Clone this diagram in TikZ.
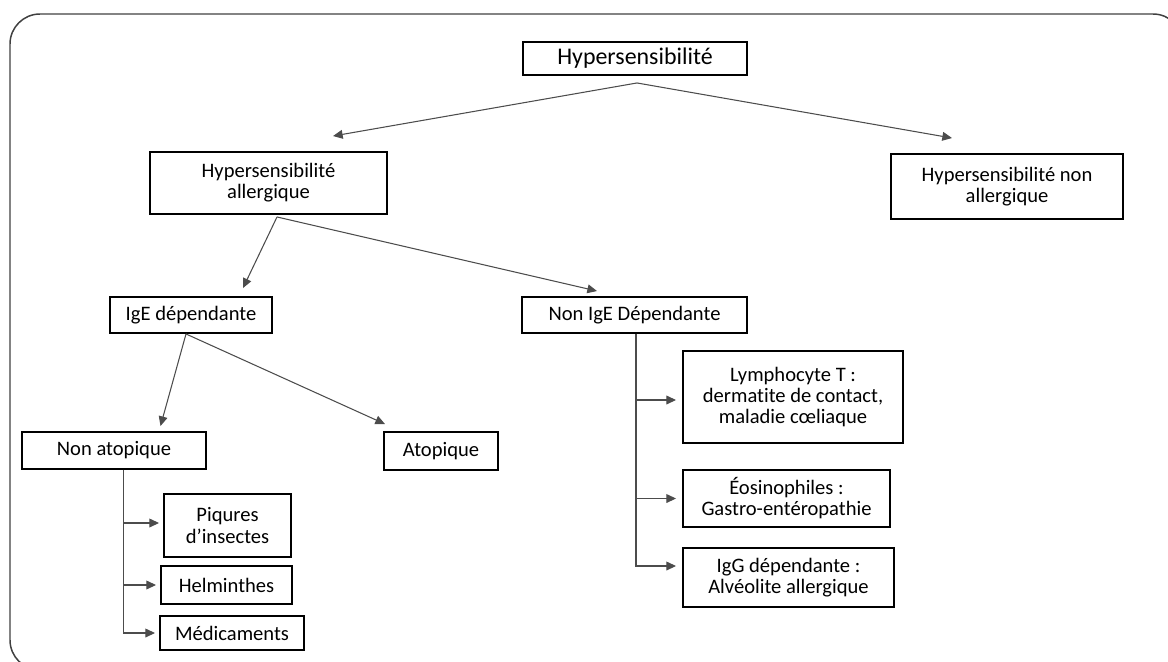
\documentclass[tikz,border=0pt]{standalone}
\usepackage{fontspec}
\setmainfont{Carlito}[Ligatures=NoCommon]
\usetikzlibrary{arrows.meta,calc}

\begin{document}
\begin{tikzpicture}[
		box/.style={draw=black, line width=1.1pt, inner sep=0pt, align=center,
			font=\fontsize{11.7}{12}\selectfont},
		link/.style={draw=black!70, line width=0.6pt},
		arr/.style={link, -{Triangle[length=5.5pt,width=5pt]}}
	]
	\useasboundingbox (0,0) rectangle (23.36,-13.22);
	\clip (0,0) rectangle (23.36,-13.22);
	% cadre
	\draw[black!75, line width=0.85pt, rounded corners=0.6cm] (0.2,-0.28) rectangle (23.66,-13.4);
	
	\node[box, minimum width=4.48cm, minimum height=0.66cm, font=\fontsize{13.6}{14}\selectfont] (hyp) at (12.70,-1.17) {Hypersensibilité};
	\node[box, minimum width=4.74cm, minimum height=1.24cm] (allerg) at (5.37,-3.66) {Hypersensibilité\\allergique};
	\node[box, minimum width=4.64cm, minimum height=1.30cm] (nonallerg) at (20.14,-3.73) {Hypersensibilité non\\allergique};
	
	\node[box, minimum width=3.24cm, minimum height=0.72cm] (ige) at (3.82,-6.30) {IgE dépendante};
	\node[box, minimum width=4.5cm, minimum height=0.72cm] (nonige) at (12.69,-6.30) {Non IgE Dépendante};
	
	\node[box, minimum width=3.68cm, minimum height=0.74cm] (nonatop) at (2.28,-9.01) {Non atopique};
	\node[box, minimum width=2.28cm, minimum height=0.76cm] (atop) at (8.82,-9.02) {Atopique};
	
	\node[box, minimum width=2.54cm, minimum height=1.26cm] (piq) at (4.55,-10.51) {Piqures\\d’insectes};
	\node[box, minimum width=2.62cm, minimum height=0.76cm] (helm) at (4.53,-11.70) {Helminthes};
	\node[box, minimum width=2.88cm, minimum height=0.68cm] (medic) at (4.64,-12.66) {Médicaments};
	
	\node[box, minimum width=4.40cm, minimum height=1.84cm] (lympho) at (15.86,-7.94) {Lymphocyte T :\\dermatite de contact,\\maladie cœliaque};
	\node[box, minimum width=4.14cm, minimum height=1.14cm] (eosin) at (15.73,-9.97) {Éosinophiles :\\Gastro-entéropathie};
	\node[box, minimum width=4.22cm, minimum height=1.18cm] (igg) at (15.77,-11.55) {IgG dépendante :\\Alvéolite allergique};
	
	% points de depart
	\coordinate (h0) at ($(hyp.south)+(0.04,-0.14)$);
	\coordinate (a0) at ($(allerg.south)+(0.17,-0.04)$);
	\coordinate (i0) at ($(ige.south)+(-0.10,0)$);
	\coordinate (na0) at ($(nonatop.south)+(0.19,0)$);
	\coordinate (ni0) at ($(nonige.south)+(0.03,0)$);
	
	\draw[arr] (h0) -- ($(allerg.north)+(1.29,0.30)$);
	\draw[arr] (h0) -- ($(nonallerg.north)+(-1.10,0.30)$);
	\draw[arr] (a0) -- ($(ige.north)+(1.04,0.16)$);
	\draw[arr] (a0) -- ($(nonige.north)+(-0.75,0.10)$);
	\draw[arr] (i0) -- ($(nonatop.north)+(0.93,0.10)$);
	\draw[arr] (i0) -- ($(atop.north)+(-1.12,0.14)$);
	
	% branches
	\draw[arr] (na0) |- ($(piq.west)+(-0.08,0.05)$);
	\draw[arr] (na0) |- ($(helm.west)+(-0.08,0)$);
	\draw[arr] (na0) |- ($(medic.west)+(-0.08,0)$);
	\draw[arr] (ni0) |- ($(lympho.west)+(-0.12,-0.06)$);
	\draw[arr] (ni0) |- ($(eosin.west)+(-0.12,0)$);
	\draw[arr] (ni0) |- ($(igg.west)+(-0.12,0.23)$);
\end{tikzpicture}
\end{document}
